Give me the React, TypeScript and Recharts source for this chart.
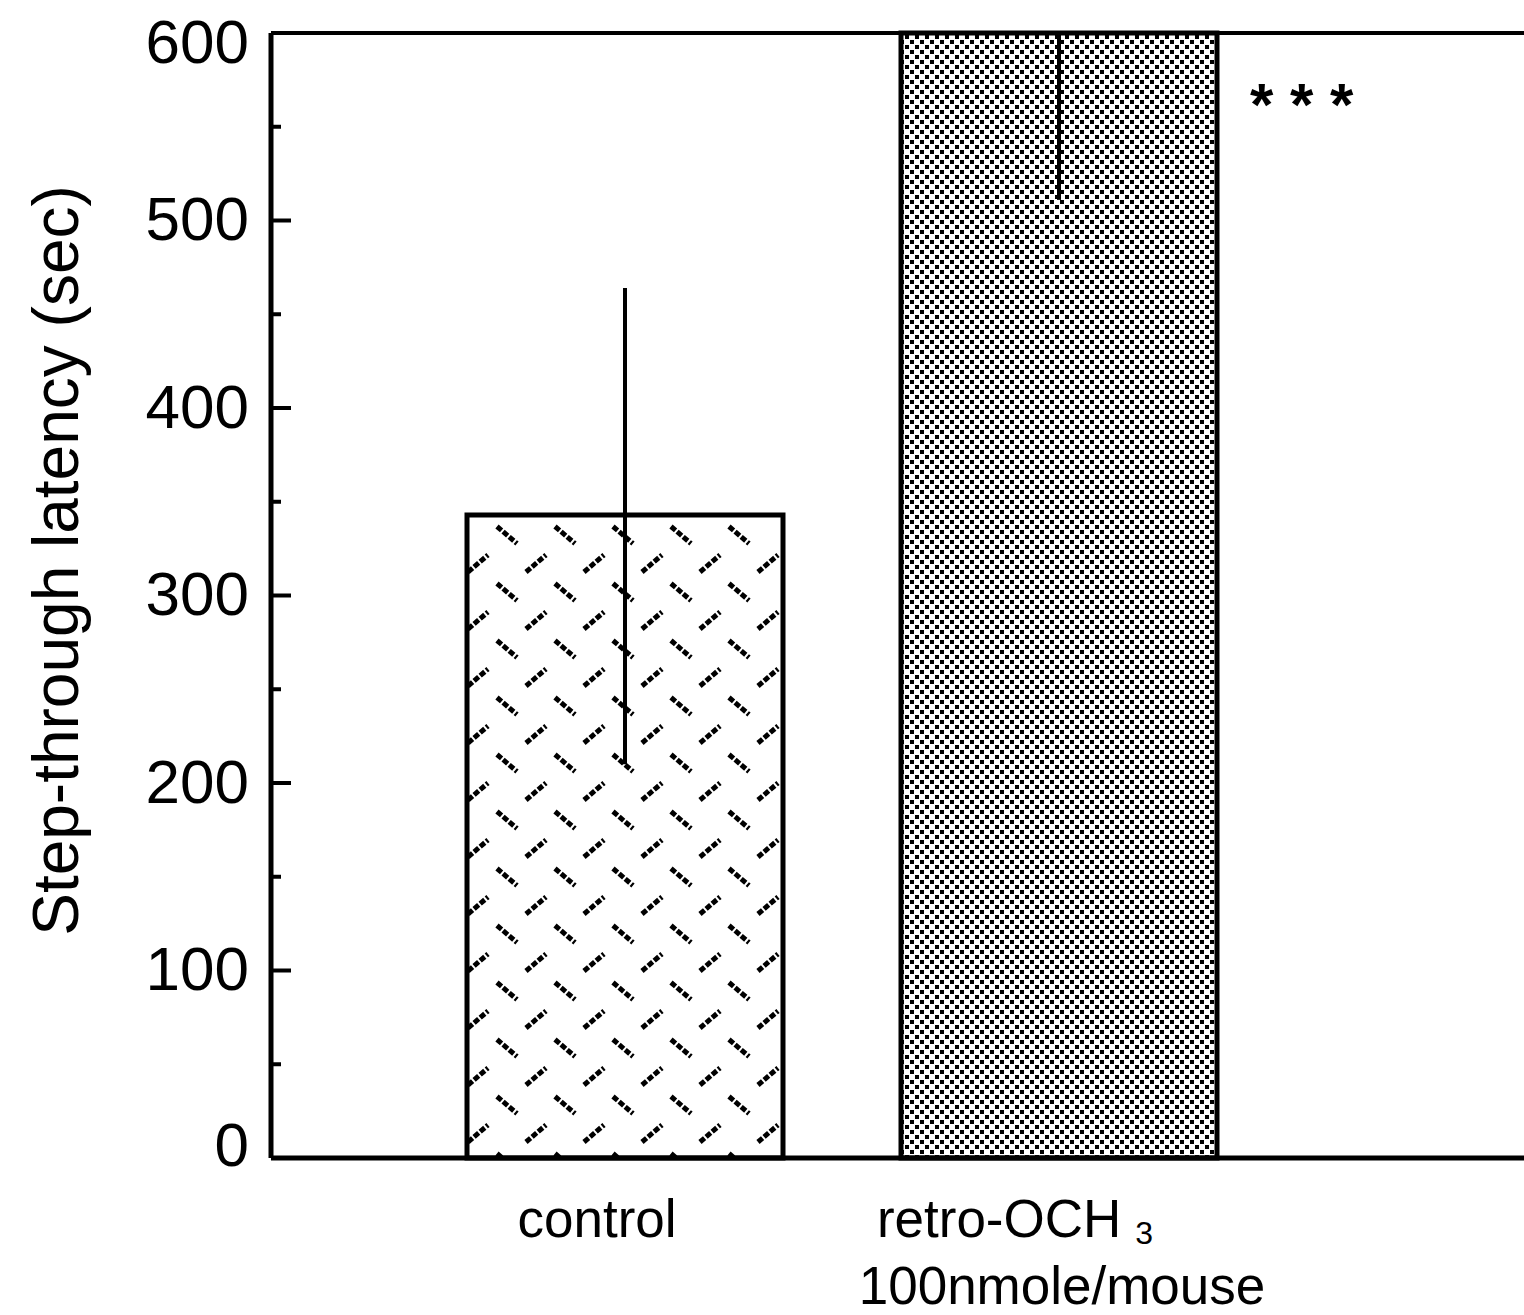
import { Bar, BarChart, Cell, ErrorBar, LabelList, ReferenceLine, XAxis, YAxis } from "recharts";

// step-through latency
const groups = ["control", "retro-OCH3|100nmole/mouse"];
const latency = [343, 600];
const errLow = [133, 89];
const errHigh = [121, 0];
const signif = ["", "* * *"];
const yTicks = [0, 50, 100, 150, 200, 250, 300, 350, 400, 450, 500, 550, 600];

const data = groups.map((g, i) => ({
  group: g,
  latency: latency[i],
  err: [errLow[i], errHigh[i]],
  sig: signif[i],
}));

const FONT = "'Liberation Sans', Arial, Helvetica, sans-serif";
const FILLS = ["url(#hatch)", "url(#stipple)"];
// nudges so the category text sits where the original typesetting put it
const LINE_DX = [[-28], [-44, 3]];

function YTick({ x, y, payload }: any) {
  const v = payload.value;
  const major = v % 100 === 0;
  const dy = v === 600 ? 10 : v === 0 ? -12 : 0;
  return (
    <g>
      <line x1={x} x2={x + (major ? 20 : 10)} y1={y} y2={y} stroke="#000" strokeWidth={4} />
      {major && (
        <text x={x - 22} y={y + dy} dy="0.32em" textAnchor="end" fontSize={62} fontFamily={FONT} fill="#000">
          {v}
        </text>
      )}
    </g>
  );
}

function XTick({ x, y, payload, index }: any) {
  const lines = String(payload.value).split("|");
  const dxs = LINE_DX[index] || [];
  return (
    <g>
      {lines.map((ln, i) => {
        const m = ln.match(/^(.*OCH)(\d)$/);
        return (
          <text
            key={i}
            x={x + (dxs[i] || 0)}
            y={y + 79 + i * 67}
            textAnchor="middle"
            fontSize={53}
            fontFamily={FONT}
            fill="#000"
          >
            {m ? (
              <>
                <tspan>{m[1]}</tspan>
                <tspan dx={14} dy={7} fontSize={32}>
                  {m[2]}
                </tspan>
              </>
            ) : (
              ln
            )}
          </text>
        );
      })}
    </g>
  );
}

function SigLabel({ x, y, width, value }: any) {
  if (!value) return null;
  return (
    <text x={x + width + 33} y={y + 92} fontSize={60} fontWeight="bold" fontFamily={FONT} fill="#000">
      {value}
    </text>
  );
}

function Patterns() {
  return (
    <svg width={0} height={0} style={{ position: "absolute" }}>
      <defs>
        <pattern id="hatch" patternUnits="userSpaceOnUse" x={28} y={8} width={58} height={57}>
          <rect width={58} height={57} fill="#fff" />
          <line x1={5} y1={5.5} x2={25} y2={22.5} stroke="#000" strokeWidth={5} strokeDasharray="6 2" />
          <line x1={34} y1={51} x2={54} y2={34} stroke="#000" strokeWidth={5} strokeDasharray="6 2" />
        </pattern>
        <pattern id="stipple" patternUnits="userSpaceOnUse" width={10} height={10}>
          <rect width={10} height={10} fill="#fff" />
          <rect x={0} y={0} width={4} height={4} fill="#000" />
          <rect x={5} y={5} width={4} height={4} fill="#000" />
        </pattern>
      </defs>
    </svg>
  );
}

export default function App() {
  return (
    <div style={{ position: "absolute", left: 0, top: 0, width: 1524, height: 1315, background: "#fff" }}>
      <Patterns />
      <BarChart
        width={1524}
        height={1315}
        data={data}
        margin={{ top: 33, right: 0, bottom: 0, left: 0 }}
        barSize={316}
      >
        <XAxis
          dataKey="group"
          height={157}
          padding={{ left: 137, right: 248 }}
          axisLine={{ stroke: "#000", strokeWidth: 5 }}
          tickLine={false}
          tickSize={0}
          tickMargin={0}
          interval={0}
          tick={<XTick />}
        />
        <YAxis
          width={271}
          domain={[0, 600]}
          ticks={yTicks}
          interval={0}
          axisLine={{ stroke: "#000", strokeWidth: 5 }}
          tickLine={false}
          tickSize={0}
          tickMargin={0}
          tick={<YTick />}
          label={{
            content: ({ viewBox }: any) => {
              const cy = viewBox.y + viewBox.height / 2 - 35;
              return (
                <text
                  x={78}
                  y={cy}
                  transform={`rotate(-90, 78, ${cy})`}
                  textAnchor="middle"
                  fontSize={64}
                  fontFamily={FONT}
                  fill="#000"
                >
                  Step-through latency (sec)
                </text>
              );
            },
          }}
        />
        <ReferenceLine y={600} stroke="#000" strokeWidth={4} />
        <Bar dataKey="latency" stroke="#000" strokeWidth={5} isAnimationActive={false}>
          {data.map((_, i) => (
            <Cell key={i} fill={FILLS[i % FILLS.length]} />
          ))}
          <ErrorBar dataKey="err" direction="y" width={0} stroke="#000" strokeWidth={4} />
          <LabelList dataKey="sig" content={<SigLabel />} />
        </Bar>
      </BarChart>
    </div>
  );
}
